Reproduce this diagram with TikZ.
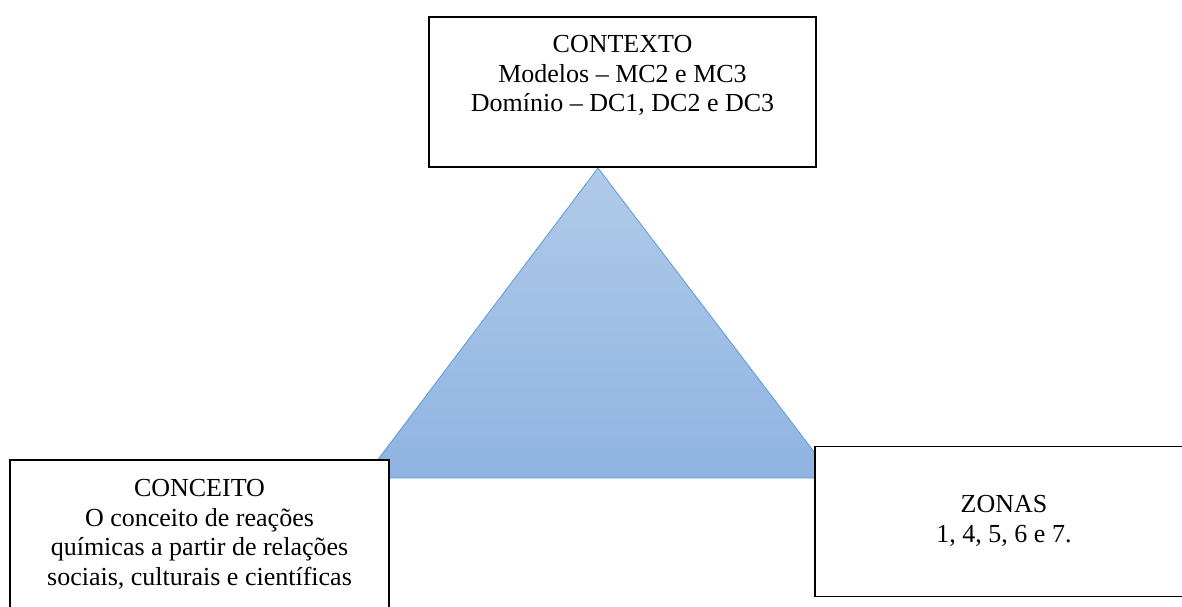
\documentclass[tikz,border=0pt]{standalone}
\usepackage{fontspec}
\setmainfont{Liberation Serif}
\usetikzlibrary{positioning,calc}
\definecolor{triTop}{HTML}{B1CAE8}
\definecolor{triBottom}{HTML}{8FB4E2}
\definecolor{triEdge}{HTML}{5B9BD5}
\tikzset{
  box/.style={draw=black, line width=0.8pt, fill=white, minimum width=#1, minimum height=75pt, inner sep=0pt},
  box/.default=193.5pt,
  boxtext/.style={align=center, font=\fontsize{13}{14.75}\selectfont, inner sep=0pt},
  tri/.style={draw=triEdge, line width=0.4pt, top color=triTop, bottom color=triBottom},
}
\begin{document}
\begin{tikzpicture}[x=0.5pt, y=-0.5pt]
  \useasboundingbox (0,0) rectangle (1182,606);
  % triangle behind the boxes
  \coordinate (apex) at (598,168);
  \coordinate (baseL) at (364,478);
  \coordinate (baseR) at (834,478);
  \shadedraw[tri] (apex) -- (baseL) -- (baseR) -- cycle;
  \node[box] (ctx) at (622.5,92) {};
  \node[boxtext] (ctxText) at (622.5,75.5) {CONTEXTO\\Modelos – MC2 e MC3\\Domínio – DC1, DC2 e DC3};
  \node[box=189.5pt] (conc) at (199.5,535) {};
  \node[boxtext] (concText) at (199.5,534.5) {CONCEITO\\O conceito de reações\\químicas a partir de relações\\sociais, culturais e científicas};
  \node[box=189pt] (zon) at (1004,521.5) {};
  \node[boxtext] (zonText) at (1004,521) {ZONAS\\1, 4, 5, 6 e 7.};
\end{tikzpicture}
\end{document}
